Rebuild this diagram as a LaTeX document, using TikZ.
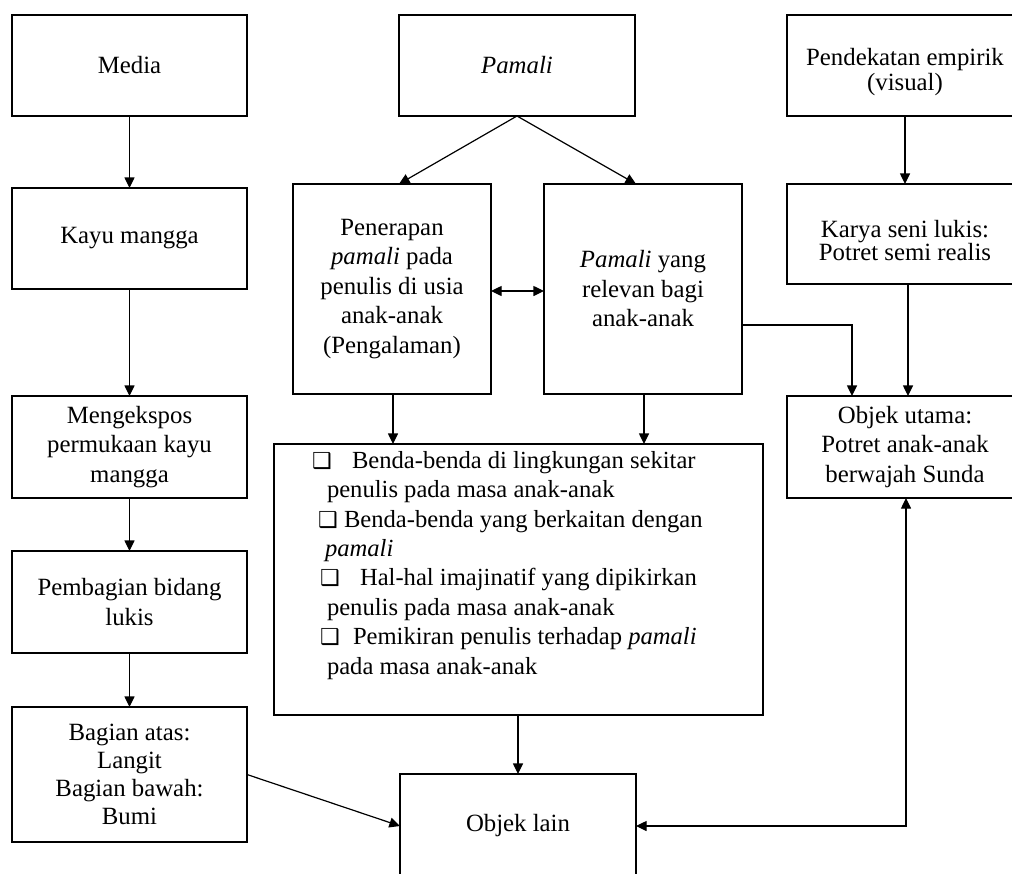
\documentclass[tikz,border=0pt]{standalone}
\usepackage{fontspec}
\setmainfont{Liberation Serif}
\newfontfamily\dvfont{DejaVu Sans}
\usetikzlibrary{arrows.meta,calc}
\newcommand{\cbx}{{\dvfont\fontsize{11}{11}\selectfont ❑}}
\begin{document}
\begin{tikzpicture}[x=0.5pt,y=-0.5pt,
  box/.style={draw, line width=1.4pt, inner sep=0pt, outer sep=0pt, align=center,
    font=\fontsize{12.4pt}{14.75pt}\selectfont},
  txt/.style={inner sep=0pt, outer sep=0pt, align=center},
  arr/.style={line width=0.6pt, -{Triangle[length=5.3pt,width=5pt]}},
  dbl/.style={line width=0.6pt, {Triangle[length=5.3pt,width=5pt]}-{Triangle[length=5.3pt,width=5pt]}}]
\useasboundingbox (0,0) rectangle (1012,873);
\clip (0,0) rectangle (1012,873);
% left column
\node[box, minimum width=117.5pt, minimum height=50.5pt] (media) at (129.5,65.5) {Media};
\node[box, minimum width=117.5pt, minimum height=50.5pt] (kayu) at (129.5,238.5) {Kayu mangga};
\node[box, minimum width=117.5pt, minimum height=51pt] (meng) at (129.5,447) {Mengekspos\\permukaan kayu\\mangga};
\node[box, minimum width=117.5pt, minimum height=51pt] (pemb) at (129.5,602) {Pembagian bidang\\lukis};
\node[box, minimum width=117.5pt, minimum height=67.5pt, font=\fontsize{12.4pt}{14pt}\selectfont] (bag) at (129.5,774.5) {Bagian atas:\\Langit\\Bagian bawah:\\Bumi};
% middle
\node[box, minimum width=118pt, minimum height=50.5pt] (pamali) at (517,65.5) {\textit{Pamali}};
\node[box, minimum width=99pt, minimum height=105pt] (pen) at (392,289) {Penerapan\\\textit{pamali} pada\\penulis di usia\\anak-anak\\(Pengalaman)};
\node[box, minimum width=99pt, minimum height=105pt] (rel) at (643,289) {\textit{Pamali} yang\\relevan bagi\\anak-anak};
\node[box, minimum width=244.5pt, minimum height=135.5pt] (list) at (518.5,579.5) {};
\node[txt, anchor=base west, align=left, font=\fontsize{12.3pt}{14.7pt}\selectfont] (listtxt) at (312,674) {%
\hspace*{0pt}\makebox[20pt][l]{\cbx}Benda-benda di lingkungan sekitar\\
\hspace*{7.5pt}penulis pada masa anak-anak\\
\hspace*{3pt}\makebox[13pt][l]{\cbx}Benda-benda yang berkaitan dengan\\
\hspace*{6.5pt}\textit{pamali}\\
\hspace*{4pt}\makebox[20pt][l]{\cbx}Hal-hal imajinatif yang dipikirkan\\
\hspace*{7.5pt}penulis pada masa anak-anak\\
\hspace*{4pt}\makebox[16.5pt][l]{\cbx}Pemikiran penulis terhadap \textit{pamali}\\
\hspace*{7.5pt}pada masa anak-anak};
\node[box, minimum width=118pt, minimum height=52pt] (objL) at (518,826) {Objek lain};
% right column
\node[box, minimum width=118pt, minimum height=50.5pt] (pend) at (905,65.5) {};
\node[txt, font=\fontsize{12.4pt}{11pt}\selectfont] (pendtxt) at (905,72) {Pendekatan empirik\\(visual)};
\node[box, minimum width=118pt, minimum height=50pt] (karya) at (905,234) {};
\node[txt, font=\fontsize{12.4pt}{11.5pt}\selectfont] (karyatxt) at (905,241) {Karya seni lukis:\\Potret semi realis};
\node[box, minimum width=118pt, minimum height=51pt] (objU) at (905,447) {Objek utama:\\Potret anak-anak\\berwajah Sunda};
% helper coordinates
\coordinate (penS) at ($(pen.south)+(1,0)$);
\coordinate (relS) at ($(rel.south)+(1,0)$);
\coordinate (karS) at ($(karya.south)+(3,0)$);
\coordinate (objUN) at ($(objU.north)+(-53,0)$);
\coordinate (objUS) at ($(objU.south)+(1,0)$);
\coordinate (relE) at ($(rel.east)+(0,36)$);
% connectors
\draw[arr] (media) -- (kayu);
\draw[arr] (kayu) -- (meng);
\draw[arr] (meng) -- (pemb);
\draw[arr] (pemb) -- (bag);
\draw[arr] (bag.east) -- (objL.west);
\draw[arr] (pamali.south) -- ($(pen.north)+(7,0)$);
\draw[arr] (pamali.south) -- ($(rel.north)+(-7,0)$);
\draw[dbl] ($(pen.east)+(0,2)$) -- ($(rel.west)+(0,2)$);
\draw[arr] (penS) -- (penS |- list.north);
\draw[arr] (relS) -- (relS |- list.north);
\draw[arr] (list.south -| objL.north) -- (objL.north);
\draw[arr] (pend) -- (karya);
\draw[arr] (karS) -- (karS |- objU.north);
\draw[arr] (relE) -| (objUN);
\draw[dbl] (objUS) |- (objL.east);
\end{tikzpicture}
\end{document}
